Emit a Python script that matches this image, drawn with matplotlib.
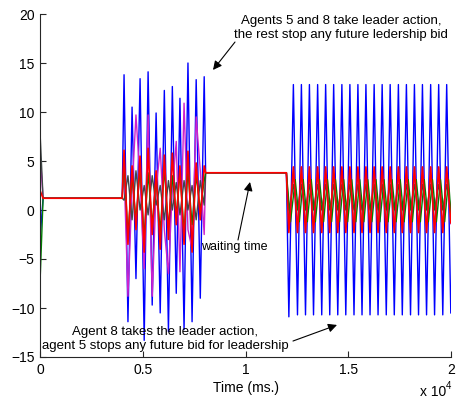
import matplotlib
matplotlib.use('Agg')
import matplotlib.pyplot as plt

plt.rcParams['font.family'] = ['Liberation Sans', 'DejaVu Sans']

# ---------------- data (time in ms) ----------------
time_init = [0, 150]
time_mid = [4000, 4090, 4280, 4480, 4670, 4870, 5070, 5260, 5460, 5650, 5850,
            6050, 6250, 6440, 6630, 6810, 7010, 7200, 7400, 7600, 7800, 7990, 8060]
time_per = [11990,
            12110, 12330, 12530, 12720, 12920, 13110, 13310, 13510, 13710, 13900,
            14100, 14290, 14490, 14690, 14880, 15080, 15280, 15470, 15670, 15860,
            16060, 16260, 16450, 16650, 16850, 17040, 17240, 17440, 17630, 17830,
            18030, 18220, 18420, 18610, 18810, 19010, 19200, 19400, 19600, 19790,
            19990]
# green lags the others slightly in the periodic part
time_per_green = [11990,
                  12190, 12420, 12620, 12810, 13010, 13200, 13400, 13600, 13800, 13990,
                  14190, 14380, 14580, 14780, 14970, 15170, 15370, 15560, 15760, 15950,
                  16150, 16350, 16540, 16740, 16940, 17130, 17330, 17530, 17720, 17920,
                  18120, 18310, 18510, 18700, 18900, 19100, 19290, 19490, 19690, 19880,
                  20000]

blue_init = [-3.0, 1.2]
blue_mid = [1.2, 13.8, -11.4, 10.5, -7.0, 13.4, -13.3, 14.1, -9.7, 9.9, -10.5,
            12.2, -12.4, 12.6, -8.5, 11.4, -12.2, 15.0, -11.4, 13.3, -9.0, 13.6, 3.8]
blue_per = [3.8,
            -10.9, 12.8, -10.7, 12.8, -10.7, 12.8, -10.7, 12.8, -10.7, 12.8,
            -10.7, 12.8, -10.7, 12.8, -10.7, 12.8, -10.7, 12.8, -10.7, 12.8,
            -10.7, 12.8, -10.7, 12.8, -10.7, 12.8, -10.7, 12.8, -10.7, 12.8,
            -10.7, 12.8, -10.7, 12.8, -10.7, 12.8, -10.7, 12.8, -10.7, 12.8,
            -10.5]

magenta_init = [6.0, 1.2]
magenta_mid = [1.2, 4.0, -8.8, 2.0, 9.7, 3.0, -6.0, 9.7, -8.8, 2.0, 6.3,
               -2.0, -6.5, 2.0, 7.0, -6.3, 10.9, -2.0, -4.0, 9.5, 4.0, -2.5, 3.8]
magenta_per = [3.8,
               -1.6, 3.8, -1.6, 3.8, -1.6, 3.8, -1.6, 3.8, -1.6, 3.8,
               -1.6, 3.8, -1.6, 3.8, -1.6, 3.8, -1.6, 3.8, -1.6, 3.8,
               -1.6, 3.8, -1.6, 3.8, -1.6, 3.8, -1.6, 3.8, -1.6, 3.8,
               -1.6, 3.8, -1.6, 3.8, -1.6, 3.8, -1.6, 3.8, -1.6, 3.8,
               -1.4]

gray_init = [8.0, 1.2]
gray_mid = [1.2, 1.0, 3.5, -1.0, 4.0, 0.0, 2.5, -0.5, 3.5, 0.5, 2.5,
            -1.0, 3.0, 0.0, 2.8, -0.5, 3.0, 0.0, 2.5, -1.0, 3.0, 0.5, 3.8]
gray_per = [3.8,
            0.0, 2.6, 0.0, 2.6, 0.0, 2.6, 0.0, 2.6, 0.0, 2.6,
            0.0, 2.6, 0.0, 2.6, 0.0, 2.6, 0.0, 2.6, 0.0, 2.6,
            0.0, 2.6, 0.0, 2.6, 0.0, 2.6, 0.0, 2.6, 0.0, 2.6,
            0.0, 2.6, 0.0, 2.6, 0.0, 2.6, 0.0, 2.6, 0.0, 2.6,
            0.2]

green_init = [-7.5, 1.2]
green_mid = [1.2, 4.8, -2.5, 3.5, -1.0, 4.2, -2.8, 3.8, -1.5, 3.2, -2.2,
             4.2, -1.8, 3.5, -0.5, 3.8, -2.2, 4.0, -1.5, 3.5, 0.0, 3.0, 3.8]
green_per = [3.8,
             -1.2, 3.1, -1.2, 3.1, -1.2, 3.1, -1.2, 3.1, -1.2, 3.1,
             -1.2, 3.1, -1.2, 3.1, -1.2, 3.1, -1.2, 3.1, -1.2, 3.1,
             -1.2, 3.1, -1.2, 3.1, -1.2, 3.1, -1.2, 3.1, -1.2, 3.1,
             -1.2, 3.1, -1.2, 3.1, -1.2, 3.1, -1.2, 3.1, -1.2, 3.1,
             -0.6]

red_init = [2.0, 1.2]
red_mid = [1.2, 6.1, -3.5, 4.5, -2.0, 5.5, -4.3, 6.3, -2.5, 4.0, -4.0,
           5.6, -3.0, 5.8, -1.5, 4.5, -3.5, 6.0, -4.3, 4.8, -1.0, 4.5, 3.8]
red_per = [3.8,
           -2.3, 4.4, -2.3, 4.4, -2.3, 4.4, -2.3, 4.4, -2.3, 4.4,
           -2.3, 4.4, -2.3, 4.4, -2.3, 4.4, -2.3, 4.4, -2.3, 4.4,
           -2.3, 4.4, -2.3, 4.4, -2.3, 4.4, -2.3, 4.4, -2.3, 4.4,
           -2.3, 4.4, -2.3, 4.4, -2.3, 4.4, -2.3, 4.4, -2.3, 4.4,
           -1.3]

x_ticks = [0, 5000, 10000, 15000, 20000]
x_ticklabels = ['0', '0.5', '1', '1.5', '2']
y_ticks = [-15, -10, -5, 0, 5, 10, 15, 20]

# ---------------- figure ----------------
W, H = 465, 398
fig = plt.figure(figsize=(W / 100, H / 100), dpi=100)
ax = fig.add_axes([40 / W, 1 - 357 / H, 411 / W, 343 / H])

time_all = time_init + time_mid + time_per
time_green = time_init + time_mid + time_per_green
series = [
    (time_all, blue_init + blue_mid + blue_per, '#0000ff', 1.0),
    (time_all, magenta_init + magenta_mid + magenta_per, '#cc22cc', 1.0),
    (time_all, gray_init + gray_mid + gray_per, '#404848', 1.0),
    (time_green, green_init + green_mid + green_per, '#008000', 1.0),
    (time_all, red_init + red_mid + red_per, '#ff0000', 1.2),
]
for tt, vals, col, lw in series:
    ax.plot(tt, vals, color=col, lw=lw)

ax.set_xlim(0, 20000)
ax.set_ylim(-15, 20)
ax.set_xticks(x_ticks)
ax.set_xticklabels(x_ticklabels)
ax.set_yticks(y_ticks)
for s in ['top', 'right']:
    ax.spines[s].set_visible(False)
for s in ['left', 'bottom']:
    ax.spines[s].set_color('#262626')
    ax.spines[s].set_linewidth(0.8)
ax.tick_params(direction='in', length=4, width=0.8, labelsize=10, color='#262626', pad=4)
ax.set_xlabel('Time (ms.)', fontsize=10, labelpad=3)

fig.text(420 / W, 1 - 392 / H, 'x 10', fontsize=10, ha='left', va='center')
fig.text(446 / W, 1 - 386 / H, '4', fontsize=7, ha='left', va='center')

arrow = dict(arrowstyle='-|>', color='k', lw=0.8, mutation_scale=13, shrinkA=0, shrinkB=0)

ax.text(14647, 18.6, 'Agents 5 and 8 take leader action,\nthe rest stop any future ledership bid',
        ha='center', va='center', fontsize=9.5, linespacing=1.2)
ax.annotate('', xy=(8418, 14.29), xytext=(9489, 17.14), arrowprops=arrow)

ax.text(9440, -3.8, 'waiting time', ha='center', va='center', fontsize=9)
ax.annotate('', xy=(10219, 2.86), xytext=(9635, -3.06), arrowprops=arrow)

ax.text(6083, -13.16, 'Agent 8 takes the leader action,\nagent 5 stops any future bid for leadership',
        ha='center', va='center', fontsize=9.5, linespacing=1.15)
ax.annotate('', xy=(14453, -11.73), xytext=(12311, -13.37), arrowprops=arrow)

fig.savefig('out.png', dpi=100)
